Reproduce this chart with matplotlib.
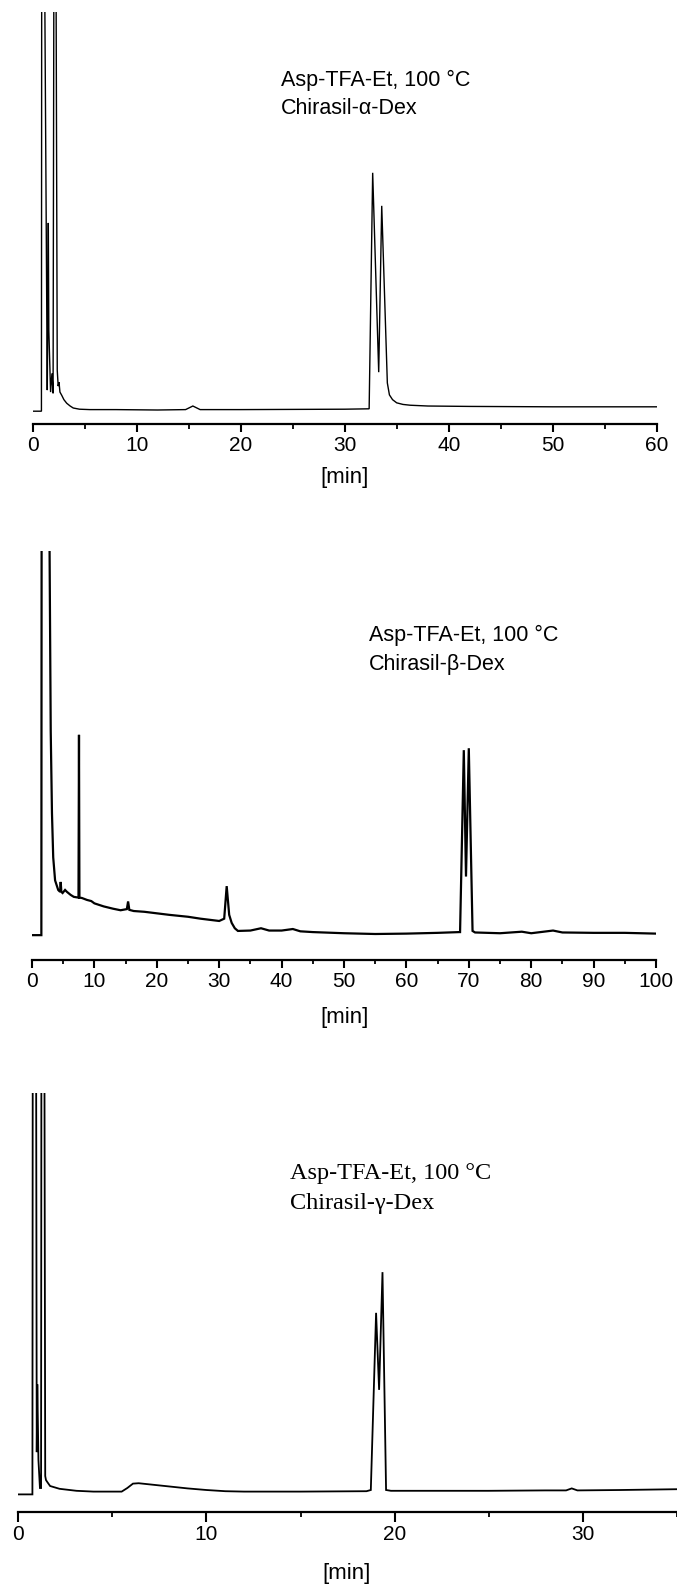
import matplotlib
matplotlib.use('Agg')
import matplotlib.pyplot as plt
from matplotlib.ticker import MultipleLocator

W, H = 677, 1587

# --- data (time in min, signal in % of clipped height) ---
t_alpha = [0, 0.84, 0.87, 1.1, 1.4, 1.47, 1.5, 1.55, 1.72, 1.85, 1.96, 2.05, 2.22, 2.36, 2.45,
           2.53, 2.62, 2.79, 3.0, 3.27, 3.6, 3.9, 4.5, 5.5, 8.0, 12, 14.7, 15.4, 16.1, 20, 25, 30,
           32.35, 32.69, 33.27, 33.56, 34.1, 34.3, 34.6, 35.0, 35.6, 36.3, 38, 42, 50, 60]
s_alpha = [-0.3, -0.3, 130, 130, 5, 30, 47, 20, 4.5, 9.2, 4.2, 130, 130, 10, 6,
           7, 4.5, 3.7, 2.6, 1.7, 1.0, 0.5, 0.2, 0.1, 0.1, 0.0, 0.1, 1.0, 0.1, 0.1, 0.15, 0.2,
           0.3, 59.6, 9.5, 51.3, 6.8, 3.8, 2.6, 1.8, 1.4, 1.2, 1.0, 0.9, 0.8, 0.8]

t_beta = [0, 1.5, 1.55, 2.7, 3.0, 3.2, 3.4, 3.7, 4.2, 4.5, 4.6, 4.7, 4.9, 5.3, 5.6, 6.2, 6.7,
          7.45, 7.53, 7.6, 8.0, 8.8, 9.5, 10, 11.5, 13, 14.2, 15.2, 15.4, 15.6, 16.3, 18, 20, 22,
          25, 27, 30, 30.8, 31.2, 31.6, 32, 32.5, 33, 35, 36.7, 38, 40, 41.8, 43, 45, 50, 55, 60,
          65, 68.5, 68.6, 69.2, 69.55, 70.0, 70.6, 71, 75, 78.5, 80, 83.5, 85, 90, 95, 100]
s_beta = [-0.3, -0.3, 130, 130, 53, 31.6, 20, 14, 11.5, 11, 13.6, 11, 10.7, 11.5, 11, 10.2, 9.7,
          9.5, 52, 9.5, 9.4, 8.9, 8.6, 8.0, 7.2, 6.6, 6.2, 6.5, 8.5, 6.3, 6.0, 5.8, 5.4, 5.0,
          4.5, 4.0, 3.4, 4.0, 12.5, 5.0, 2.9, 1.5, 0.8, 0.9, 1.5, 0.9, 0.9, 1.3, 0.7, 0.5, 0.2, 0.0, 0.1,
          0.3, 0.5, 0.5, 48, 15, 48.5, 0.8, 0.4, 0.2, 0.6, 0.2, 0.9, 0.4, 0.3, 0.3, 0.1]

t_gamma = [0, 0.76, 0.78, 0.95, 0.99, 1.02, 1.08, 1.16, 1.22, 1.24, 1.39, 1.44, 1.48, 1.55, 1.7,
           2.2, 3.1, 4, 5.5, 5.8, 6.1, 6.4, 7, 8, 9, 10, 11, 12, 15, 18.5, 18.73, 19.01, 19.17,
           19.35, 19.54, 19.8, 22, 25, 28, 29.1, 29.4, 29.7, 32, 35]
s_gamma = [-0.6, -0.6, 130, 130, 10, 27, 8, 1, 1, 130, 130, 4, 3, 2.5, 1.5,
           0.8, 0.3, 0.1, 0.1, 1.0, 2.1, 2.2, 1.9, 1.4, 0.9, 0.5, 0.2, 0.1, 0.1, 0.2, 0.5, 44.9, 25.6,
           55.1, 0.5, 0.3, 0.3, 0.3, 0.4, 0.4, 0.9, 0.4, 0.5, 0.7]

label_1 = 'Asp-TFA-Et, 100 °C'
phases = ['Chirasil-α-Dex', 'Chirasil-β-Dex', 'Chirasil-γ-Dex']
xmax = [60, 100, 35]

plt.rcParams['font.family'] = ['Liberation Sans', 'DejaVu Sans']

fig = plt.figure(figsize=(W / 100, H / 100), dpi=100)


def panel(t, s, x0, x1, top, base, spine, tmax, lw, major_len, minor_len, pad):
    ax = fig.add_axes([x0 / W, 1 - spine / H, (x1 - x0) / W, (spine - top) / H])
    span = base - top
    ax.plot(t, s, color='black', lw=lw, solid_joinstyle='miter')
    ax.set_xlim(0, tmax)
    ax.set_ylim(-(spine - base) / span * 100, 100)
    for side in ['left', 'top', 'right']:
        ax.spines[side].set_visible(False)
    ax.spines['bottom'].set_linewidth(1.6)
    ax.set_yticks([])
    ax.xaxis.set_major_locator(MultipleLocator(10))
    ax.xaxis.set_minor_locator(MultipleLocator(5))
    ax.tick_params(axis='x', which='major', length=major_len, width=1.5, pad=pad, labelsize=15)
    ax.tick_params(axis='x', which='minor', length=minor_len, width=1.3)
    ax.patch.set_alpha(0)
    return ax


panel(t_alpha, s_alpha, 32.7, 656.7, 12, 410, 424, xmax[0], 1.0, 6, 3.5, 2.5)
panel(t_beta, s_beta, 32, 656, 551, 934, 960, xmax[1], 1.6, 6, 3, 2.5)
panel(t_gamma, s_gamma, 18.1, 677.2, 1093, 1492, 1512, xmax[2], 1.3, 7, 3.5, 2.5)


def ftext(x, y, txt, **kw):
    fig.text(x / W, 1 - y / H, txt, **kw)


ftext(281, 80, label_1, fontsize=15.5, va='center')
ftext(281, 108, phases[0], fontsize=15.5, va='center')
ftext(369, 635, label_1, fontsize=15.5, va='center')
ftext(369, 665, phases[1], fontsize=15.5, va='center')
ftext(290, 1173, label_1, fontsize=17.5, va='center', family=['Liberation Serif', 'DejaVu Serif'])
ftext(290, 1203, phases[2], fontsize=17.5, va='center', family=['Liberation Serif', 'DejaVu Serif'])

ftext(345, 478, '[min]', fontsize=16, ha='center', va='center')
ftext(345, 1018, '[min]', fontsize=16, ha='center', va='center')
ftext(347, 1574, '[min]', fontsize=16, ha='center', va='center')

fig.savefig('out.png', dpi=100)
